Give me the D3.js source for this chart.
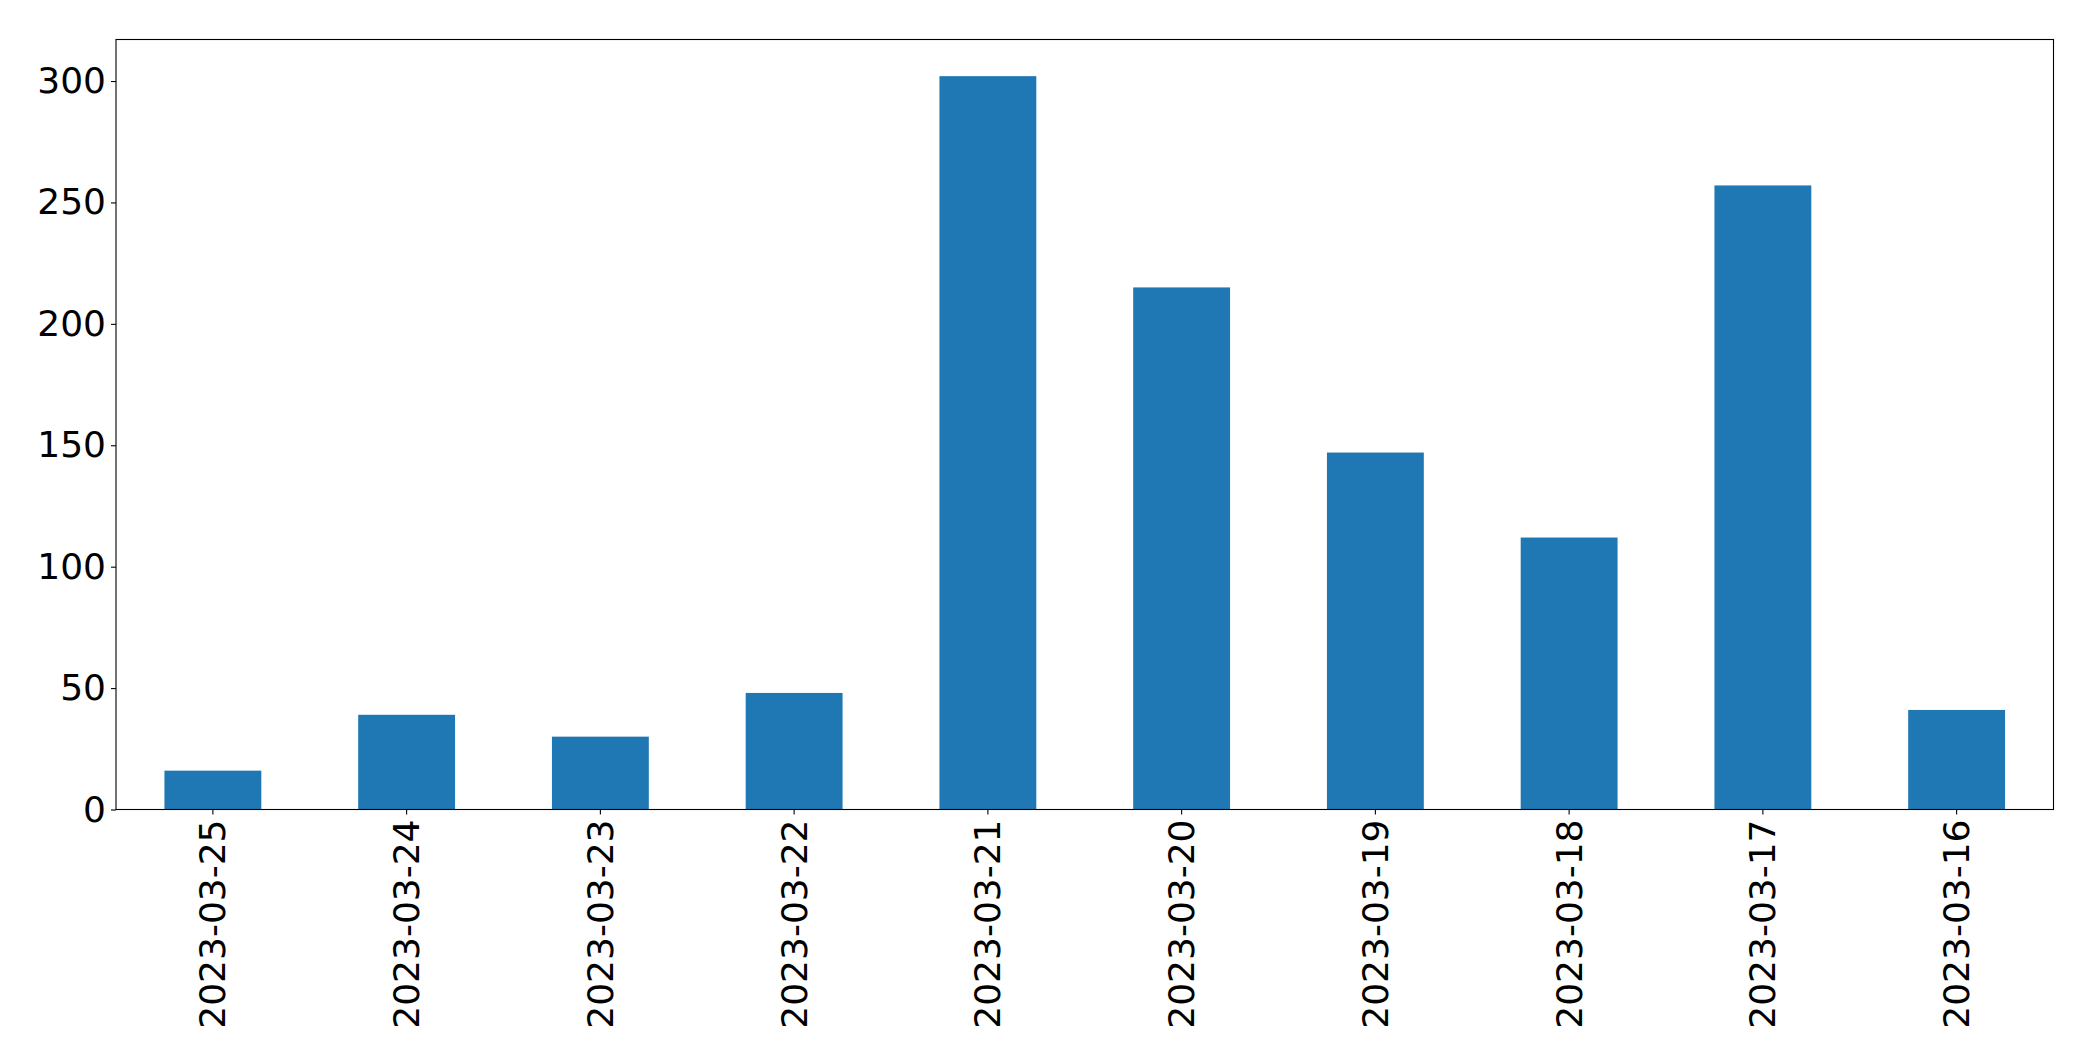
<!DOCTYPE html>
<html>
<head>
<meta charset="utf-8">
<script src="https://cdn.jsdelivr.net/npm/d3@7"></script>
<style>
  body { margin: 0; background: #fff; }
  text { font-family: "DejaVu Sans", sans-serif; }
</style>
</head>
<body>
<div id="chart"></div>
<script>
// values
var dates = ["2023-03-25", "2023-03-24", "2023-03-23", "2023-03-22", "2023-03-21",
             "2023-03-20", "2023-03-19", "2023-03-18", "2023-03-17", "2023-03-16"];
var counts = [16, 39, 30, 48, 302, 215, 147, 112, 257, 41];
var yTicks = [0, 50, 100, 150, 200, 250, 300];

var width = 2093, height = 1061;
var margin = {left: 116, top: 39.5, right: 2093 - 2053.5, bottom: 1061 - 809.5};

var svg = d3.select("#chart").append("svg")
    .attr("width", width)
    .attr("height", height);

var x = d3.scaleBand()
    .domain(dates)
    .range([margin.left, width - margin.right])
    .paddingInner(0.5)
    .paddingOuter(0.25);

var y = d3.scaleLinear()
    .domain([0, d3.max(counts) * 1.05])
    .range([height - margin.bottom, margin.top]);

var data = dates.map(function(d, i) { return {date: d, value: counts[i]}; });

svg.append("g")
    .selectAll("rect")
    .data(data)
    .enter().append("rect")
    .attr("x", function(d) { return x(d.date); })
    .attr("y", function(d) { return y(d.value); })
    .attr("width", x.bandwidth())
    .attr("height", function(d) { return y(0) - y(d.value); })
    .style("fill", "#1f77b4");

// y axis
var yAxis = svg.append("g")
    .attr("transform", "translate(" + margin.left + ",0)")
    .call(d3.axisLeft(y).tickValues(yTicks).tickSize(5).tickPadding(5));
yAxis.select(".domain").remove();
yAxis.selectAll("line").attr("stroke", "#000").attr("stroke-width", 1.1);
yAxis.selectAll("text")
    .attr("font-size", "36px")
    .attr("fill", "#000")
    .attr("font-family", "DejaVu Sans, sans-serif");

// x axis
var xAxis = svg.append("g")
    .attr("transform", "translate(0," + (height - margin.bottom) + ")")
    .call(d3.axisBottom(x).tickSize(5).tickPadding(5));
xAxis.select(".domain").remove();
xAxis.selectAll("line").attr("stroke", "#000").attr("stroke-width", 1.1);
xAxis.selectAll("text")
    .attr("font-size", "36px")
    .attr("fill", "#000")
    .attr("font-family", "DejaVu Sans, sans-serif")
    .attr("text-anchor", "end")
    .attr("transform", "rotate(-90)")
    .attr("x", -10)
    .attr("y", 0)
    .attr("dy", "0.35em");

// frame
svg.append("rect")
    .attr("x", margin.left)
    .attr("y", margin.top)
    .attr("width", width - margin.left - margin.right)
    .attr("height", height - margin.top - margin.bottom)
    .style("fill", "none")
    .style("stroke", "#000")
    .style("stroke-width", 1.1);
</script>
</body>
</html>
